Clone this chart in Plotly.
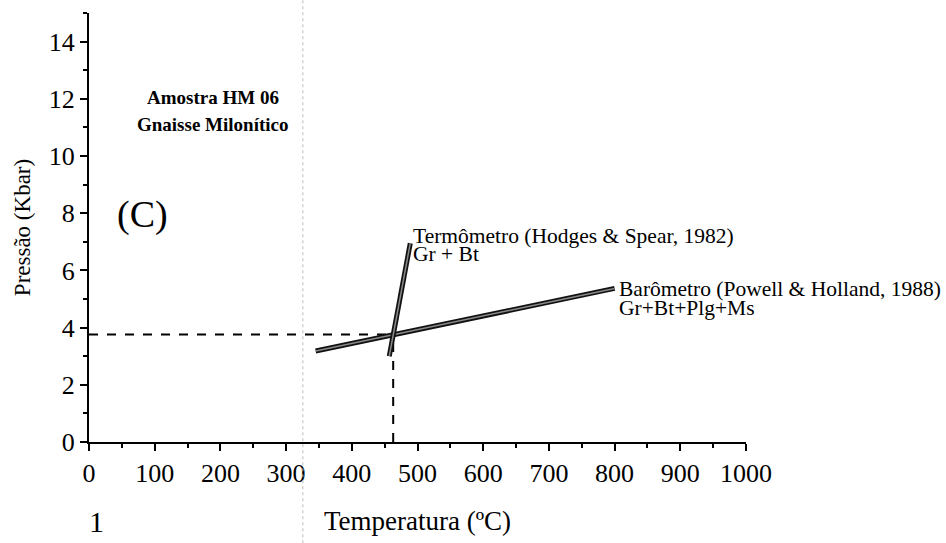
import plotly.graph_objects as go

# Data
thermo_T = [457, 489]
thermo_P = [3.0, 6.95]
baro_T = [345, 800]
baro_P = [3.18, 5.37]
inter_T = 463
inter_P = 3.76
dash_h_T = [0, inter_T]
dash_h_P = [inter_P, inter_P]
dash_v_T = [inter_T, inter_T]
dash_v_P = [0, inter_P]

x_ticks = [0, 100, 200, 300, 400, 500, 600, 700, 800, 900, 1000]
y_ticks = [0, 2, 4, 6, 8, 10, 12, 14]

SERIF = "Liberation Serif"

fig = go.Figure()

# dashed guides
fig.add_trace(go.Scatter(x=dash_h_T, y=dash_h_P, mode="lines",
                         line=dict(color="black", width=2, dash="dash"), showlegend=False))
fig.add_trace(go.Scatter(x=dash_v_T, y=dash_v_P, mode="lines",
                         line=dict(color="black", width=2, dash="dash"), showlegend=False))

# thick outlined lines
for xs, ys in [(baro_T, baro_P), (thermo_T, thermo_P)]:
    fig.add_trace(go.Scatter(x=xs, y=ys, mode="lines",
                             line=dict(color="#111111", width=5), showlegend=False))
    fig.add_trace(go.Scatter(x=xs, y=ys, mode="lines",
                             line=dict(color="#8a8a8a", width=1.5), showlegend=False))

annotations = [
    dict(x=188, y=12.05, text="<b>Amostra HM 06</b>", font=dict(size=19)),
    dict(x=188, y=11.1, text="<b>Gnaisse Milonítico</b>", font=dict(size=19)),
    dict(x=82, y=7.95, text="(C)", font=dict(size=38)),
    dict(x=490, y=7.2, text="Termômetro (Hodges & Spear, 1982)", xanchor="left", font=dict(size=21.5)),
    dict(x=490, y=6.56, text="Gr + Bt", xanchor="left", font=dict(size=21.5)),
    dict(x=803, y=5.35, text="Barômetro (Powell & Holland, 1988)", xanchor="left", font=dict(size=21.5)),
    dict(x=803, y=4.68, text="Gr+Bt+Plg+Ms", xanchor="left", font=dict(size=21.5)),
]
for a in annotations:
    a.update(showarrow=False, xref="x", yref="y")
    a["font"].update(family=SERIF, color="black")
    a.setdefault("xanchor", "center")
    fig.add_annotation(**a)

# stray scan character
fig.add_annotation(x=-0.003, y=-0.185, xref="paper", yref="paper", text="1", showarrow=False,
                   font=dict(family=SERIF, size=30, color="black"), yanchor="middle")

# scan artifact vertical line
fig.add_shape(type="line", xref="paper", yref="paper", x0=0.3255, x1=0.3255, y0=-0.25, y1=1.05,
              line=dict(color="#bbbbbb", width=1, dash="dot"))

fig.update_xaxes(range=[0, 1000], tickvals=x_ticks, showline=True, linecolor="black", linewidth=2,
                 ticks="outside", ticklen=7, tickwidth=2, tickcolor="black",
                 minor=dict(ticks="outside", ticklen=4, tickwidth=2, dtick=50, tickcolor="black"),
                 showgrid=False, zeroline=False,
                 tickfont=dict(family=SERIF, size=26, color="black"),
                 title=dict(text="Temperatura (ºC)", font=dict(family=SERIF, size=27, color="black"),
                            standoff=24))
fig.update_yaxes(range=[0, 15], tickvals=y_ticks, showline=True, linecolor="black", linewidth=2,
                 ticks="outside", ticklen=7, tickwidth=2, tickcolor="black",
                 minor=dict(ticks="outside", ticklen=4, tickwidth=2, dtick=1, tickcolor="black"),
                 showgrid=False, zeroline=False,
                 tickfont=dict(family=SERIF, size=26, color="black"),
                 title=dict(text="Pressão (Kbar)", font=dict(family=SERIF, size=23, color="black"),
                            standoff=12))

fig.update_layout(width=946, height=543, margin=dict(l=89, r=200, t=13, b=86),
                  plot_bgcolor="white", paper_bgcolor="white", showlegend=False)

fig.write_html("out.html")
